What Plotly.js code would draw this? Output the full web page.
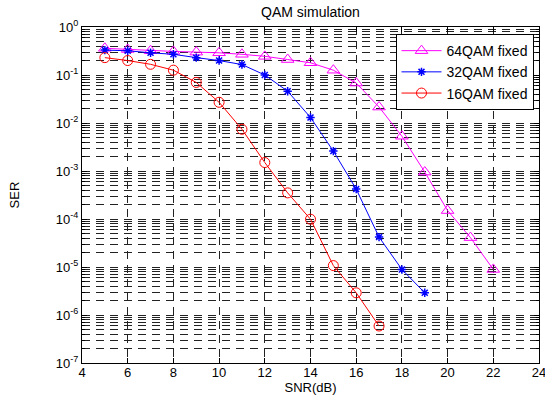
<!DOCTYPE html>
<html>
<head>
<meta charset="utf-8">
<script src="https://cdn.plot.ly/plotly-3.0.1.min.js"></script>
<style>html,body{margin:0;padding:0;background:#fff;}#chart{width:545px;height:398px;}</style>
</head>
<body>
<div id="chart"></div>
<script>
const snr64 = [5,6,7,8,9,10,11,12,13,14,15,16,17,18,19,20,21,22];
const ser64 = [0.36,0.34,0.32,0.31,0.30,0.29,0.27,0.245,0.21,0.18,0.126,0.068,0.0215,0.0053,9.5e-4,1.5e-4,4.1e-5,8.9e-6];
const snr32 = [5,6,7,8,9,10,11,12,13,14,15,16,17,18,19];
const ser32 = [0.33,0.32,0.29,0.27,0.23,0.20,0.165,0.10,0.046,0.013,0.0026,4.2e-4,4.2e-5,8.9e-6,2.9e-6];
const snr16 = [5,6,7,8,9,10,11,12,13,14,15,16,17];
const ser16 = [0.23,0.20,0.167,0.126,0.07,0.027,0.0074,0.0015,3.5e-4,9.9e-5,1.07e-5,2.9e-6,5.9e-7];
const seriesNames = ['64QAM fixed','32QAM fixed','16QAM fixed'];
const xTicks = [4,6,8,10,12,14,16,18,20,22,24];
const yTickVals = [1e-7,1e-6,1e-5,1e-4,1e-3,1e-2,1e-1,1];
const yTickText = ['10<sup>-7</sup>','10<sup>-6</sup>','10<sup>-5</sup>','10<sup>-4</sup>','10<sup>-3</sup>','10<sup>-2</sup>','10<sup>-1</sup>','10<sup>0</sup>'];

// minor log grid positions (2..9 in each decade)
const yMinorVals = [];
for (let e = -7; e < 0; e++) for (let m = 2; m <= 9; m++) yMinorVals.push(m * Math.pow(10, e));

const FAM = 'Liberation Sans, Arial, sans-serif';
const font = {family: FAM, size: 13, color: '#000'};
const GRIDDASH = '8px,6px';
const traces = [
  {x: snr64, y: ser64, name: seriesNames[0], mode: 'lines+markers', type: 'scatter',
   line: {color: '#ff00ff', width: 1},
   marker: {symbol: 'triangle-up-open', size: 11, color: '#ff00ff', line: {width: 1, color: '#ff00ff'}}},
  {x: snr32, y: ser32, name: seriesNames[1], mode: 'lines+markers', type: 'scatter',
   line: {color: '#0000ff', width: 1},
   marker: {symbol: 'asterisk-open', size: 7, color: '#0000ff', line: {width: 1.5, color: '#0000cc'}}},
  {x: snr16, y: ser16, name: seriesNames[2], mode: 'lines+markers', type: 'scatter',
   line: {color: '#ff0000', width: 1},
   marker: {symbol: 'circle-open', size: 10, color: '#ff0000', line: {width: 1, color: '#ff0000'}}}
];
const layout = {
  width: 545, height: 398,
  margin: {l: 82, r: 6, t: 27, b: 35},
  paper_bgcolor: '#fff', plot_bgcolor: '#fff',
  font: font,
  showlegend: true,
  title: {text: 'QAM simulation', xref: 'paper', x: 0.5, xanchor: 'center', y: 0.983, yanchor: 'top', font: {family: FAM, size: 14, color: '#000'}},
  xaxis: {
    range: [4, 24], tickmode: 'array', tickvals: xTicks, ticks: 'inside', ticklen: 5, tickcolor: '#000',
    showline: true, linecolor: '#000', linewidth: 1, mirror: 'allticks',
    showgrid: true, gridcolor: '#222', gridwidth: 1, griddash: GRIDDASH,
    zeroline: false, ticklabeloverflow: 'allow', ticklabelstandoff: -3,
    title: {text: 'SNR(dB)', standoff: 4, font: {family: FAM, size: 13}},
    tickfont: {family: FAM, size: 13}
  },
  yaxis: {
    type: 'log', range: [-7, 0], tickmode: 'array', tickvals: yTickVals, ticktext: yTickText,
    ticks: 'inside', ticklen: 5, tickcolor: '#000',
    showline: true, linecolor: '#000', linewidth: 1, mirror: 'allticks',
    showgrid: true, gridcolor: '#222', gridwidth: 1, griddash: GRIDDASH,
    minor: {tickmode: 'array', tickvals: yMinorVals, ticks: 'inside', ticklen: 3, tickcolor: '#000',
            showgrid: true, gridcolor: '#222', gridwidth: 1, griddash: GRIDDASH},
    zeroline: false,
    title: {text: 'SER', standoff: 33, font: {family: FAM, size: 13}},
    tickfont: {family: FAM, size: 13}
  },
  legend: {
    x: 0.686, y: 0.979, xanchor: 'left', yanchor: 'top',
    bgcolor: '#fff', bordercolor: '#000', borderwidth: 1,
    font: {family: FAM, size: 14, color: '#000'},
    tracegroupgap: 0, itemwidth: 40
  }
};
Plotly.newPlot('chart', traces, layout, {displayModeBar: false, staticPlot: true});
</script>
</body>
</html>
